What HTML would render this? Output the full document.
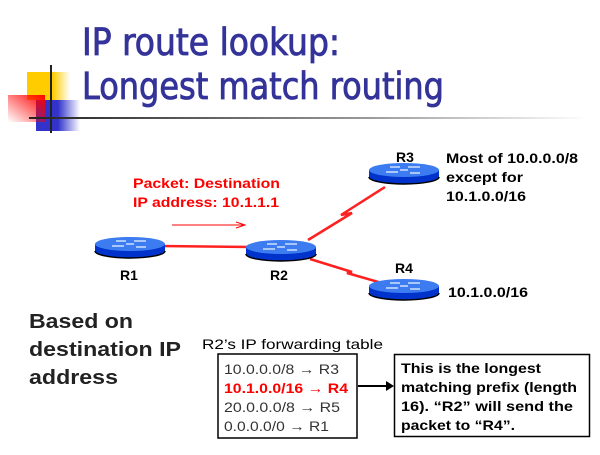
<!DOCTYPE html>
<html><head><meta charset="utf-8"><style>
body{margin:0;background:#fff}
svg text{font-family:"Liberation Sans",Arial,sans-serif}
</style></head><body>
<svg width="600" height="450" viewBox="0 0 600 450" xmlns="http://www.w3.org/2000/svg">
<defs>
<linearGradient id="yg" x1="0" x2="1" y1="0" y2="0"><stop offset="0.6" stop-color="#ffcc00"/><stop offset="1" stop-color="#ffcc00" stop-opacity="0"/></linearGradient>
<linearGradient id="bg" x1="0" x2="1" y1="0" y2="0"><stop offset="0.5" stop-color="#3333cc"/><stop offset="1" stop-color="#3333cc" stop-opacity="0"/></linearGradient>
<linearGradient id="rg" x1="0" y1="1" x2="1" y2="0"><stop offset="0" stop-color="#ff0000" stop-opacity="0"/><stop offset="1" stop-color="#ff0000"/></linearGradient>
<linearGradient id="hl" x1="0" x2="1"><stop offset="0" stop-color="#222"/><stop offset="0.6" stop-color="#999"/><stop offset="1" stop-color="#fff"/></linearGradient>
<g id="rt">
<path d="M-35,0 v7 a35,7 0 0 0 70,0 v-7 z" fill="#0033cc"/>
<path d="M-35,7 a35,7 0 0 0 70,0" fill="none" stroke="#000" stroke-width="1.5"/>
<ellipse cx="0" cy="0" rx="35" ry="7" fill="#3d7cf0"/>
<path d="M-14,-3 h10 M4,-3 h12 M-18,2 h12 M6,3 h10 M-4,0 h8" stroke="#cfe0ff" stroke-width="1.5"/>
</g>
</defs>
<rect x="27" y="72" width="43" height="28" fill="url(#yg)"/>
<rect x="36" y="100" width="44" height="31" fill="url(#bg)"/>
<rect x="8" y="95" width="37" height="27" fill="url(#rg)"/>
<rect x="50" y="65" width="2" height="68" fill="#222"/>
<rect x="29" y="117" width="560" height="2" fill="url(#hl)"/>
<text x="82" y="55" font-size="37" fill="#333399" stroke="#333399" stroke-width="0.8" textLength="258" lengthAdjust="spacingAndGlyphs" style="font-family:'DejaVu Sans Condensed','Liberation Sans',sans-serif">IP route lookup:</text>
<text x="82" y="99" font-size="37" fill="#333399" stroke="#333399" stroke-width="0.8" textLength="362" lengthAdjust="spacingAndGlyphs" style="font-family:'DejaVu Sans Condensed','Liberation Sans',sans-serif">Longest match routing</text>

<text x="133" y="188" font-size="14" font-weight="bold" fill="#ff0000" textLength="147" lengthAdjust="spacingAndGlyphs">Packet: Destination</text>
<text x="133" y="207" font-size="14" font-weight="bold" fill="#ff0000" textLength="146" lengthAdjust="spacingAndGlyphs">IP address: 10.1.1.1</text>
<line x1="172" y1="225" x2="243" y2="225" stroke="#ff0000" stroke-width="1"/>
<path d="M236,222 L245,225 L236,228" fill="none" stroke="#ff0000"/>

<line x1="160" y1="246" x2="250" y2="247" stroke="#ff2020" stroke-width="2.5"/>
<polyline points="308,240 352,213 341,215 385,187" fill="none" stroke="#ff2020" stroke-width="2.5"/>
<polyline points="310,259 352,272 347,273 382,283" fill="none" stroke="#ff2020" stroke-width="2.5"/>

<use href="#rt" x="130" y="244"/>
<use href="#rt" x="281" y="247"/>
<use href="#rt" x="404" y="170"/>
<use href="#rt" x="404" y="286"/>

<g font-size="14" font-weight="bold" fill="#000" lengthAdjust="spacingAndGlyphs">
<text x="120" y="280">R1</text>
<text x="270" y="280">R2</text>
<text x="396" y="162">R3</text>
<text x="395" y="273">R4</text>
<text x="446" y="163" textLength="132" lengthAdjust="spacingAndGlyphs">Most of 10.0.0.0/8</text>
<text x="446" y="182" textLength="77" lengthAdjust="spacingAndGlyphs">except for</text>
<text x="446" y="201" textLength="80" lengthAdjust="spacingAndGlyphs">10.1.0.0/16</text>
<text x="448" y="297" textLength="80" lengthAdjust="spacingAndGlyphs">10.1.0.0/16</text>
</g>
<g font-size="20" font-weight="bold" fill="#222">
<text x="29" y="328" textLength="104" lengthAdjust="spacingAndGlyphs">Based on</text>
<text x="29" y="356" textLength="152" lengthAdjust="spacingAndGlyphs">destination IP</text>
<text x="29" y="384" textLength="89" lengthAdjust="spacingAndGlyphs">address</text>
</g>
<text x="202" y="349" font-size="14" fill="#000" textLength="181" lengthAdjust="spacingAndGlyphs">R2’s IP forwarding table</text>
<rect x="218" y="354" width="139" height="84" fill="none" stroke="#000" stroke-width="1.5"/>
<g font-size="14" fill="#333">
<text x="224" y="374" textLength="115" lengthAdjust="spacingAndGlyphs">10.0.0.0/8 → R3</text>
<text x="224" y="393" fill="#ff0000" font-weight="bold" textLength="124" lengthAdjust="spacingAndGlyphs">10.1.0.0/16 → R4</text>
<text x="224" y="412" textLength="116" lengthAdjust="spacingAndGlyphs">20.0.0.0/8 → R5</text>
<text x="224" y="431" textLength="105" lengthAdjust="spacingAndGlyphs">0.0.0.0/0 → R1</text>
</g>
<line x1="358" y1="386" x2="388" y2="386" stroke="#000" stroke-width="2"/>
<path d="M386,381 L394,386 L386,391 z" fill="#000"/>
<rect x="394.5" y="354.5" width="195" height="82" fill="none" stroke="#000" stroke-width="1.5"/>
<g font-size="14" font-weight="bold" fill="#000">
<text x="401" y="373" textLength="140" lengthAdjust="spacingAndGlyphs">This is the longest</text>
<text x="401" y="392" textLength="176" lengthAdjust="spacingAndGlyphs">matching prefix (length</text>
<text x="401" y="411" textLength="172" lengthAdjust="spacingAndGlyphs">16).  “R2” will send the</text>
<text x="401" y="430" textLength="114" lengthAdjust="spacingAndGlyphs">packet to “R4”.</text>
</g>
</svg>
</body></html>
